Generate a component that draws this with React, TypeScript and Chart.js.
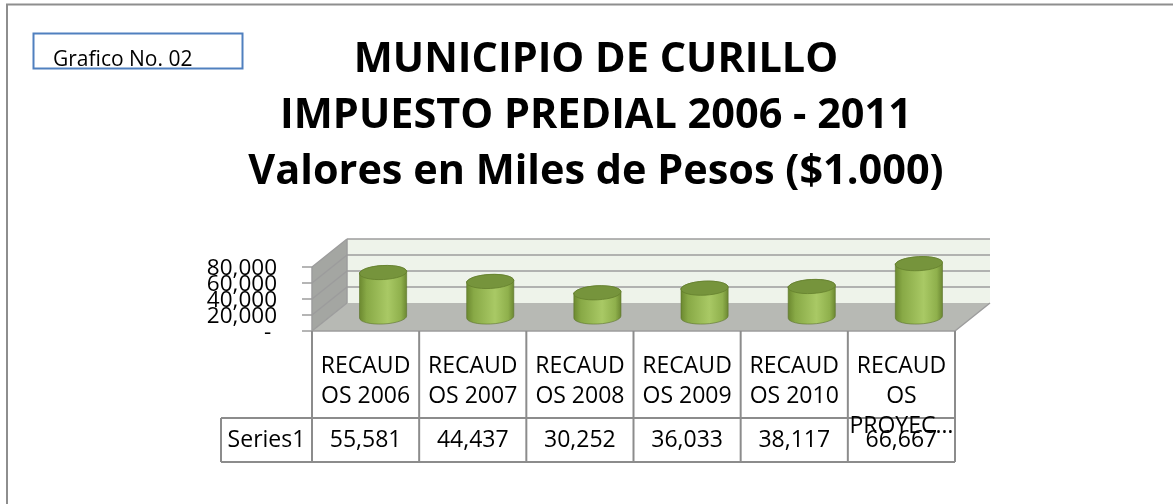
import React, { useEffect, useRef } from "react";
import { Chart, registerables } from "chart.js";

Chart.register(...registerables);

// ---------- data ----------
const categories: string[][] = [
  ["RECAUD", "OS 2006"],
  ["RECAUD", "OS 2007"],
  ["RECAUD", "OS 2008"],
  ["RECAUD", "OS 2009"],
  ["RECAUD", "OS 2010"],
  ["RECAUD", "OS", "PROYEC…"],
];
const seriesName = "Series1";
const values: number[] = [55581, 44437, 30252, 36033, 38117, 66667];
const yTicks: number[] = [0, 20000, 40000, 60000, 80000];
const titleLines: string[] = [
  "MUNICIPIO DE CURILLO",
  "IMPUESTO PREDIAL 2006 - 2011",
  "Valores en Miles de Pesos ($1.000)",
];
const boxLabel = "Grafico No. 02";

// ---------- style ----------
const FONT = '"Open Sans", "DejaVu Sans", sans-serif';
const DX = 35; // 3D depth offset
const DY = -28;
const GRID = "#9c9c9c";
const TABLE_LINE = "#8c8c8c";

const fmt = (n: number) =>
  n === 0 ? "- " : String(Math.round(n)).replace(/\B(?=(\d{3})+(?!\d))/g, ",");

function line(ctx: CanvasRenderingContext2D, x1: number, y1: number, x2: number, y2: number) {
  ctx.beginPath();
  ctx.moveTo(x1, y1);
  ctx.lineTo(x2, y2);
  ctx.stroke();
}

function poly(ctx: CanvasRenderingContext2D, pts: number[][], fill: string) {
  ctx.beginPath();
  ctx.moveTo(pts[0][0], pts[0][1]);
  for (let i = 1; i < pts.length; i++) ctx.lineTo(pts[i][0], pts[i][1]);
  ctx.closePath();
  ctx.fillStyle = fill;
  ctx.fill();
}

const excel3d = {
  id: "excel3d",
  beforeDatasetsDraw(chart: any) {
    const ctx: CanvasRenderingContext2D = chart.ctx;
    const { left, right, top, bottom } = chart.chartArea;
    const ys = chart.scales.y;
    ctx.save();
    // back wall
    poly(ctx, [[left + DX, top + DY], [right + DX, top + DY], [right + DX, bottom + DY], [left + DX, bottom + DY]], "#eef3ea");
    // side wall
    poly(ctx, [[left, bottom], [left, top], [left + DX, top + DY], [left + DX, bottom + DY]], "#a4a6a2");
    // floor
    poly(ctx, [[left, bottom], [right, bottom], [right + DX, bottom + DY], [left + DX, bottom + DY]], "#b7b9b4");

    ctx.strokeStyle = GRID;
    ctx.lineWidth = 1.5;
    yTicks.forEach((t) => {
      const yp = ys.getPixelForValue(t);
      if (t > 0) line(ctx, left + DX, yp + DY, right + DX, yp + DY);
      line(ctx, left, yp, left + DX, yp + DY);
      line(ctx, left - 10, yp, left, yp);
    });
    // edges
    line(ctx, left + DX, top + DY, left + DX, bottom + DY);
    line(ctx, right, bottom, right + DX, bottom + DY);
    line(ctx, left, top, left, bottom);
    line(ctx, left, bottom, right, bottom);

    // y tick labels
    ctx.fillStyle = "#000";
    ctx.font = `22.5px ${FONT}`;
    ctx.textAlign = "right";
    ctx.textBaseline = "alphabetic";
    yTicks.forEach((t) => {
      const yp = ys.getPixelForValue(t);
      ctx.fillText(fmt(t), left - 35, yp + 8);
    });
    ctx.restore();
  },
  afterDatasetsDraw(chart: any) {
    const ctx: CanvasRenderingContext2D = chart.ctx;
    const xs = chart.scales.x;
    const ys = chart.scales.y;
    const ds = chart.data.datasets[0].data as number[];
    const catW = xs.width / ds.length;
    const rx = catW * 0.22;
    const ry = 7;
    const rot = -0.05;
    ctx.save();
    ds.forEach((v, i) => {
      const cx = xs.getPixelForValue(i) + DX / 2;
      const base = ys.getPixelForValue(0) + DY / 2;
      const topY = ys.getPixelForValue(v) + DY / 2;
      // body
      const g = ctx.createLinearGradient(cx - rx, 0, cx + rx, 0);
      g.addColorStop(0, "#6c8930");
      g.addColorStop(0.15, "#88a946");
      g.addColorStop(0.6, "#a9c965");
      g.addColorStop(0.88, "#8fb04c");
      g.addColorStop(1, "#6c8832");
      ctx.beginPath();
      ctx.moveTo(cx - rx, topY);
      ctx.lineTo(cx - rx, base);
      ctx.ellipse(cx, base, rx, ry, rot, Math.PI, 0, true);
      ctx.lineTo(cx + rx, topY);
      ctx.ellipse(cx, topY, rx, ry, rot, 0, Math.PI, true);
      ctx.closePath();
      ctx.fillStyle = g;
      ctx.fill();
      ctx.strokeStyle = "rgba(90,115,40,0.6)";
      ctx.lineWidth = 1;
      ctx.stroke();
      // top
      ctx.beginPath();
      ctx.ellipse(cx, topY, rx, ry, rot, 0, Math.PI * 2);
      ctx.fillStyle = "#76943c";
      ctx.fill();
      ctx.strokeStyle = "rgba(100,128,45,0.8)";
      ctx.stroke();
    });
    ctx.restore();
  },
  afterDraw(chart: any) {
    const ctx: CanvasRenderingContext2D = chart.ctx;
    const { left, right, bottom } = chart.chartArea;
    const labels = chart.data.labels as string[][];
    const ds = chart.data.datasets[0];
    const n = labels.length;
    const catW = (right - left) / n;
    ctx.save();

    // outer border
    ctx.strokeStyle = "#8e8e8e";
    ctx.lineWidth = 2;
    ctx.strokeRect(7, 4.5, 3000, 3000);

    // box label
    ctx.strokeStyle = "#5080bf";
    ctx.lineWidth = 2;
    ctx.strokeRect(33.5, 33.5, 209, 35);
    ctx.fillStyle = "#000";
    ctx.font = `21px ${FONT}`;
    ctx.textAlign = "left";
    ctx.textBaseline = "alphabetic";
    ctx.fillText(boxLabel, 53, 66);

    // title
    ctx.font = `bold 100px ${FONT}`;
    const w2 = ctx.measureText(titleLines[1]).width;
    const tSize = (100 * 632) / w2;
    ctx.font = `bold ${tSize}px ${FONT}`;
    ctx.textAlign = "center";
    titleLines.forEach((t, i) => ctx.fillText(t, 596, 72 + i * 56));

    // data table
    const hdrBottom = bottom + 87;
    const rowBottom = hdrBottom + 44;
    const labelLeft = left - 91;
    ctx.strokeStyle = TABLE_LINE;
    ctx.lineWidth = 2;
    for (let i = 0; i <= n; i++) {
      const x = left + i * catW;
      line(ctx, x, bottom, x, rowBottom);
    }
    line(ctx, labelLeft, hdrBottom, right, hdrBottom);
    line(ctx, labelLeft, rowBottom, right, rowBottom);
    line(ctx, labelLeft, hdrBottom, labelLeft, rowBottom);

    ctx.fillStyle = "#000";
    ctx.font = `23px ${FONT}`;
    ctx.textAlign = "center";
    labels.forEach((lbl, i) => {
      const cx = left + (i + 0.5) * catW;
      lbl.forEach((s, j) => ctx.fillText(s, cx, bottom + 42 + j * 30));
      ctx.fillText(fmt(ds.data[i] as number), cx, rowBottom - 15);
    });
    ctx.fillText(ds.label, (labelLeft + left) / 2, rowBottom - 15);
    ctx.restore();
  },
};

export default function App() {
  const ref = useRef<HTMLCanvasElement>(null);
  useEffect(() => {
    if (!ref.current) return;
    const chart = new Chart(ref.current, {
      type: "bar",
      data: {
        labels: categories,
        datasets: [
          {
            label: seriesName,
            data: values,
            backgroundColor: "rgba(0,0,0,0)",
            borderWidth: 0,
          },
        ],
      },
      options: {
        responsive: false,
        animation: false,
        devicePixelRatio: 1,
        layout: { padding: { left: 312, right: 218, top: 267, bottom: 173 } },
        plugins: {
          legend: { display: false },
          title: { display: false },
          tooltip: { enabled: false },
        },
        scales: {
          x: { display: false },
          y: { display: false, min: 0, max: 80000, ticks: { stepSize: 20000 } },
        },
      },
      plugins: [excel3d],
    });
    return () => chart.destroy();
  }, []);
  return (
    <div style={{ position: "fixed", left: 0, top: 0, width: 1173, height: 504, background: "#fff" }}>
      <canvas ref={ref} width={1173} height={504} style={{ display: "block" }} />
    </div>
  );
}
